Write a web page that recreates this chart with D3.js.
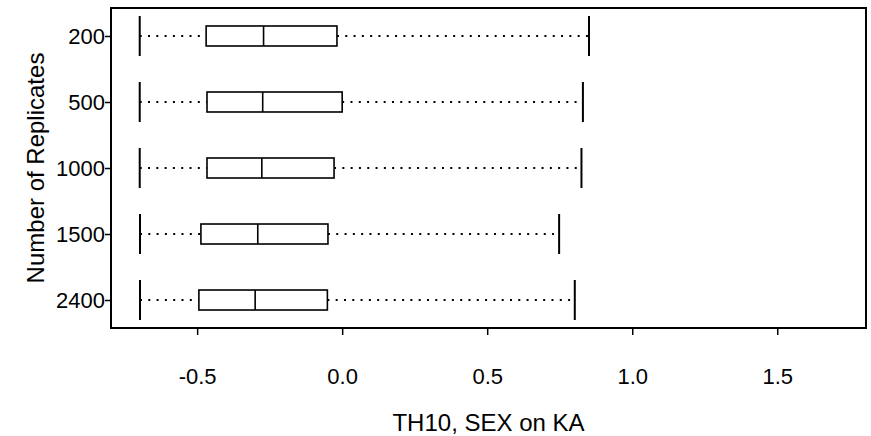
<!DOCTYPE html>
<html>
<head>
<meta charset="utf-8">
<script src="https://cdn.jsdelivr.net/npm/d3@7"></script>
<style>
  html, body { margin: 0; padding: 0; background: #fff; }
  svg text { font-family: "Liberation Sans", Arial, Helvetica, sans-serif; fill: #000; }
</style>
</head>
<body>
<svg id="chart" width="871" height="436"></svg>
<script>
const categories = ["200", "500", "1000", "1500", "2400"];
const lowerWhisker = [-0.698, -0.698, -0.698, -0.697, -0.697];
const q1Values = [-0.469, -0.466, -0.466, -0.487, -0.494];
const medianValues = [-0.271, -0.274, -0.277, -0.291, -0.300];
const q3Values = [-0.018, 0.000, -0.028, -0.049, -0.051];
const upperWhisker = [0.851, 0.830, 0.825, 0.748, 0.802];
const xTicks = [-0.5, 0.0, 0.5, 1.0, 1.5];
const xTickLabels = ["-0.5", "0.0", "0.5", "1.0", "1.5"];
const xTitle = "TH10, SEX on KA";
const yTitle = "Number of Replicates";

const data = categories.map((c, i) => ({
  cat: c, lo: lowerWhisker[i], q1: q1Values[i], med: medianValues[i], q3: q3Values[i], hi: upperWhisker[i]
}));

const svg = d3.select("#chart");
const plot = { left: 111, right: 866, top: 8, bottom: 328 };

const x = d3.scaleLinear().domain([-0.797, 1.806]).range([plot.left, plot.right]);
const y = d3.scalePoint().domain(categories).range([plot.top, plot.bottom]).padding(0.424);

const boxH = 20, stapleH = 40;

// X axis
const xAxis = d3.axisBottom(x).tickValues(xTicks)
  .tickFormat((d, i) => xTickLabels[i]).tickSize(7).tickPadding(0);
const gx = svg.append("g").attr("transform", `translate(0,${plot.bottom})`).call(xAxis);
gx.select(".domain").remove();
gx.selectAll(".tick line").attr("stroke", "#000").attr("stroke-width", 1.5);
gx.selectAll(".tick text").attr("font-size", 22).attr("dy", null).attr("y", 48)
  .attr("dominant-baseline", "central").attr("font-family", "Liberation Sans, Arial, sans-serif");

// Y axis
const yAxis = d3.axisLeft(y).tickSize(6).tickPadding(0);
const gy = svg.append("g").attr("transform", `translate(${plot.left},0)`).call(yAxis);
gy.select(".domain").remove();
gy.selectAll(".tick line").attr("stroke", "#000").attr("stroke-width", 1.5);
gy.selectAll(".tick text").attr("font-size", 22).attr("dy", null)
  .attr("dominant-baseline", "central").attr("font-family", "Liberation Sans, Arial, sans-serif");

// Boxes
const g = svg.append("g");
const rows = g.selectAll("g.row").data(data).join("g").attr("class", "row");

// dotted whiskers
rows.append("line")
  .attr("x1", d => x(d.lo)).attr("x2", d => x(d.q1))
  .attr("y1", d => y(d.cat)).attr("y2", d => y(d.cat))
  .attr("stroke", "#000").attr("stroke-width", 2).attr("stroke-dasharray", "2,6.3");
rows.append("line")
  .attr("x1", d => x(d.q3)).attr("x2", d => x(d.hi))
  .attr("y1", d => y(d.cat)).attr("y2", d => y(d.cat))
  .attr("stroke", "#000").attr("stroke-width", 2).attr("stroke-dasharray", "2,6.3");
// staples
rows.append("line")
  .attr("x1", d => x(d.lo)).attr("x2", d => x(d.lo))
  .attr("y1", d => y(d.cat) - stapleH / 2).attr("y2", d => y(d.cat) + stapleH / 2)
  .attr("stroke", "#000").attr("stroke-width", 2);
rows.append("line")
  .attr("x1", d => x(d.hi)).attr("x2", d => x(d.hi))
  .attr("y1", d => y(d.cat) - stapleH / 2).attr("y2", d => y(d.cat) + stapleH / 2)
  .attr("stroke", "#000").attr("stroke-width", 2);
// box
rows.append("rect")
  .attr("x", d => x(d.q1)).attr("width", d => x(d.q3) - x(d.q1))
  .attr("y", d => y(d.cat) - boxH / 2).attr("height", boxH)
  .attr("fill", "#fff").attr("stroke", "#000").attr("stroke-width", 1.6);
// median
rows.append("line")
  .attr("x1", d => x(d.med)).attr("x2", d => x(d.med))
  .attr("y1", d => y(d.cat) - boxH / 2).attr("y2", d => y(d.cat) + boxH / 2)
  .attr("stroke", "#000").attr("stroke-width", 1.6);

// Frame
svg.append("rect")
  .attr("x", plot.left).attr("y", plot.top)
  .attr("width", plot.right - plot.left).attr("height", plot.bottom - plot.top)
  .attr("fill", "none").attr("stroke", "#000").attr("stroke-width", 2);

// Titles
svg.append("text")
  .attr("x", (plot.left + plot.right) / 2).attr("y", 422)
  .attr("text-anchor", "middle").attr("dominant-baseline", "central")
  .attr("font-size", 24).text(xTitle);
svg.append("text")
  .attr("transform", `translate(35,${(plot.top + plot.bottom) / 2}) rotate(-90)`)
  .attr("text-anchor", "middle").attr("dominant-baseline", "central")
  .attr("font-size", 24).text(yTitle);
</script>
</body>
</html>
